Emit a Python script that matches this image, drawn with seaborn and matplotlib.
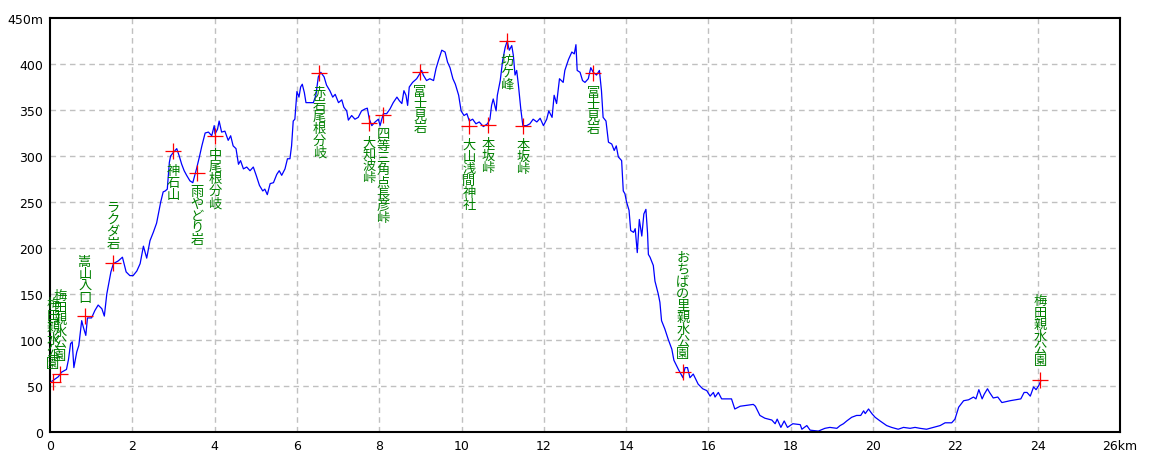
import matplotlib
matplotlib.use("Agg")
import matplotlib.pyplot as plt
import seaborn as sns
import pandas as pd

# elevation profile: distance (km) / elevation (m)
dist_km = [0.04, 0.20, 0.28, 0.40, 0.45, 0.50, 0.54, 0.58, 0.65, 0.70, 0.77, 0.81, 0.87, 0.91,
           1.01, 1.09, 1.17, 1.26, 1.32, 1.38, 1.48, 1.54, 1.66, 1.76, 1.85, 1.94, 2.02, 2.11,
           2.19, 2.27, 2.35, 2.43, 2.51, 2.59, 2.69, 2.75, 2.80, 2.85, 2.90, 2.93, 3.00, 3.08,
           3.14, 3.20, 3.26, 3.32, 3.40, 3.47, 3.56, 3.63, 3.69, 3.77, 3.85, 3.93, 3.99, 4.01,
           4.07, 4.11, 4.17, 4.25, 4.33, 4.39, 4.45, 4.52, 4.58, 4.63, 4.70, 4.78, 4.86, 4.94,
           5.01, 5.09, 5.17, 5.22, 5.28, 5.35, 5.43, 5.51, 5.57, 5.63, 5.71, 5.77, 5.83, 5.87,
           5.91, 5.95, 6.00, 6.05, 6.09, 6.13, 6.18, 6.22, 6.32, 6.40, 6.46, 6.52, 6.58, 6.66,
           6.72, 6.80, 6.87, 6.93, 7.01, 7.09, 7.14, 7.21, 7.25, 7.33, 7.41, 7.49, 7.57, 7.65,
           7.71, 7.76, 7.82, 7.90, 7.98, 8.02, 8.10, 8.18, 8.26, 8.34, 8.43, 8.49, 8.55, 8.60,
           8.65, 8.69, 8.73, 8.81, 8.91, 8.98, 9.03, 9.07, 9.15, 9.23, 9.32, 9.38, 9.44, 9.52,
           9.60, 9.66, 9.72, 9.79, 9.85, 9.93, 9.99, 10.06, 10.13, 10.19, 10.27, 10.35, 10.43,
           10.53, 10.63, 10.69, 10.73, 10.77, 10.84, 10.87, 10.94, 11.00, 11.06, 11.11, 11.16,
           11.22, 11.26, 11.30, 11.34, 11.38, 11.44, 11.49, 11.58, 11.66, 11.74, 11.83, 11.91,
           11.99, 12.07, 12.12, 12.20, 12.25, 12.31, 12.38, 12.47, 12.51, 12.60, 12.68, 12.74,
           12.78, 12.81, 12.88, 12.94, 13.00, 13.08, 13.14, 13.20, 13.28, 13.35, 13.40, 13.44,
           13.51, 13.57, 13.65, 13.71, 13.76, 13.81, 13.89, 13.93, 13.97, 14.01, 14.07, 14.11,
           14.18, 14.22, 14.27, 14.32, 14.38, 14.43, 14.48, 14.52, 14.54, 14.58, 14.66, 14.70,
           14.78, 14.82, 14.86, 14.94, 15.02, 15.11, 15.16, 15.27, 15.38, 15.43, 15.49, 15.55,
           15.63, 15.75, 15.86, 15.96, 16.04, 16.12, 16.16, 16.24, 16.32, 16.45, 16.56, 16.64,
           16.77, 17.09, 17.14, 17.25, 17.37, 17.54, 17.62, 17.67, 17.76, 17.84, 17.92, 18.05,
           18.23, 18.27, 18.39, 18.47, 18.67, 18.83, 18.95, 19.12, 19.20, 19.28, 19.36, 19.48,
           19.60, 19.70, 19.77, 19.81, 19.89, 19.97, 20.05, 20.17, 20.33, 20.45, 20.61, 20.74,
           20.90, 21.02, 21.14, 21.30, 21.47, 21.63, 21.75, 21.91, 21.99, 22.08, 22.20, 22.32,
           22.44, 22.50, 22.57, 22.65, 22.70, 22.78, 22.83, 22.92, 23.03, 23.13, 23.33, 23.59,
           23.67, 23.74, 23.82, 23.90, 23.96, 24.02, 24.08]
elev_m = [55, 60, 65, 68, 79, 96, 98, 70, 87, 94, 121, 114, 105, 124,
          124, 132, 138, 134, 126, 150, 174, 183, 186, 190, 174, 170, 170, 175,
          183, 202, 189, 208, 217, 227, 250, 261, 262, 264, 293, 300, 304, 308,
          300, 291, 284, 279, 273, 271, 286, 299, 311, 325, 326, 322, 333, 324,
          329, 338, 326, 327, 317, 322, 311, 308, 291, 295, 286, 288, 284, 288,
          279, 268, 262, 264, 258, 270, 271, 280, 284, 279, 286, 297, 297, 311,
          338, 340, 370, 364, 375, 378, 369, 358, 358, 358, 366, 386, 391, 386,
          377, 371, 364, 367, 358, 361, 353, 349, 339, 344, 340, 342, 349, 351,
          352, 340, 333, 337, 340, 333, 346, 346, 351, 358, 364, 360, 357, 371,
          366, 355, 375, 380, 384, 389, 393, 388, 382, 384, 382, 395, 404, 415,
          413, 402, 396, 384, 378, 366, 349, 344, 346, 338, 340, 335, 337,
          332, 335, 340, 355, 362, 349, 366, 382, 404, 418, 425, 415,
          420, 409, 388, 393, 378, 351, 333, 333, 335, 340, 337, 341,
          333, 340, 349, 342, 366, 357, 384, 380, 393, 405, 413, 411,
          421, 393, 391, 382, 380, 384, 396, 391, 388, 393, 371, 342,
          338, 315, 313, 306, 311, 299, 295, 262, 259, 250, 241, 219,
          217, 221, 195, 231, 213, 237, 242, 216, 193, 190, 181, 164,
          150, 141, 121, 112, 101, 90, 78, 68, 59, 70, 70, 59,
          63, 52, 47, 45, 39, 43, 38, 43, 36, 36, 36, 25,
          28, 30, 28, 18, 15, 13, 9, 14, 5, 12, 5, 9,
          8, 3, 7, 2, 1, 4, 5, 4, 7, 9, 12, 16,
          18, 18, 23, 20, 25, 20, 16, 12, 7, 5, 3, 5,
          4, 5, 4, 3, 5, 7, 10, 10, 14, 27, 34, 35,
          38, 36, 46, 36, 41, 47, 43, 37, 38, 32, 34, 36,
          43, 43, 39, 49, 46, 50, 56]

# waypoints
wp_km = [0.07, 0.24, 0.85, 1.53, 2.99, 3.57, 4.01, 6.54, 7.75, 8.09, 8.99, 10.18,
         10.64, 11.11, 11.49, 13.20, 15.38, 24.06]
wp_m = [54, 63, 126, 184, 305, 282, 322, 390, 336, 345, 391, 333,
        334, 425, 333, 390, 65, 57]
wp_names = ["梅田親水公園", "梅田親水公園", "嵩山入口", "ラクダ岩", "神石山", "雨やどり岩",
            "中尾根分岐", "赤岩尾根分岐", "大知波峠", "四等三角点長彦峠", "富士見岩",
            "大山浅間神社", "本坂峠", "坊ケ峰", "本坂峠", "富士見岩",
            "おちばの里親水公園", "梅田親水公園"]

x_ticks = [0, 2, 4, 6, 8, 10, 12, 14, 16, 18, 20, 22, 24, 26]
x_labels = ["0", "2", "4", "6", "8", "10", "12", "14", "16", "18", "20", "22", "24", "26km"]
y_ticks = [0, 50, 100, 150, 200, 250, 300, 350, 400, 450]
y_labels = ["0", "50", "100", "150", "200", "250", "300", "350", "400", "450m"]

profile = pd.DataFrame({"km": dist_km, "m": elev_m})
points = pd.DataFrame({"km": wp_km, "m": wp_m, "name": wp_names})

sns.set_style("white")
plt.rcParams["font.family"] = ["DejaVu Sans"]

fig = plt.figure(figsize=(11.6, 4.64), dpi=100)
ax = fig.add_axes([50 / 1160, 31 / 464, 1070 / 1160, 414 / 464])

# grid
for gx in x_ticks[1:-1]:
    ax.axvline(gx, color="#c0c0c0", lw=1, ls=(0, (4, 3)), zorder=0)
for gy in y_ticks[1:-1]:
    ax.axhline(gy, color="#c0c0c0", lw=1, ls=(0, (4, 3)), zorder=0)

sns.lineplot(data=profile, x="km", y="m", ax=ax, color="#0000ff", lw=0.9,
             sort=False, estimator=None, zorder=2)
ax.plot(points["km"], points["m"], ls="none", marker="+", ms=11, mew=0.9,
        color="#ff0000", zorder=3)

for _, r in points.iterrows():
    txt = "\n".join(r["name"])
    if r["m"] < 200:
        ax.annotate(txt, (r["km"], r["m"]), xytext=(0, 9), textcoords="offset points",
                    ha="center", va="bottom", fontsize=9.5, color="#008000",
                    family=["Noto Sans CJK JP", "DejaVu Sans"], linespacing=0.9,
                    annotation_clip=False, zorder=4)
    else:
        ax.annotate(txt, (r["km"], r["m"]), xytext=(0, -9), textcoords="offset points",
                    ha="center", va="top", fontsize=9.5, color="#008000",
                    family=["Noto Sans CJK JP", "DejaVu Sans"], linespacing=0.9,
                    annotation_clip=False, zorder=4)

ax.set_xlim(0, 26)
ax.set_ylim(0, 450)
ax.set_xticks(x_ticks)
ax.set_xticklabels(x_labels)
ax.set_yticks(y_ticks)
ax.set_yticklabels(y_labels)
ax.tick_params(length=0, labelsize=9, pad=5, colors="black")
ax.set_xlabel("")
ax.set_ylabel("")
for s in ax.spines.values():
    s.set_color("black")
    s.set_linewidth(1.5)

fig.savefig("out.png", dpi=100, facecolor="white")
